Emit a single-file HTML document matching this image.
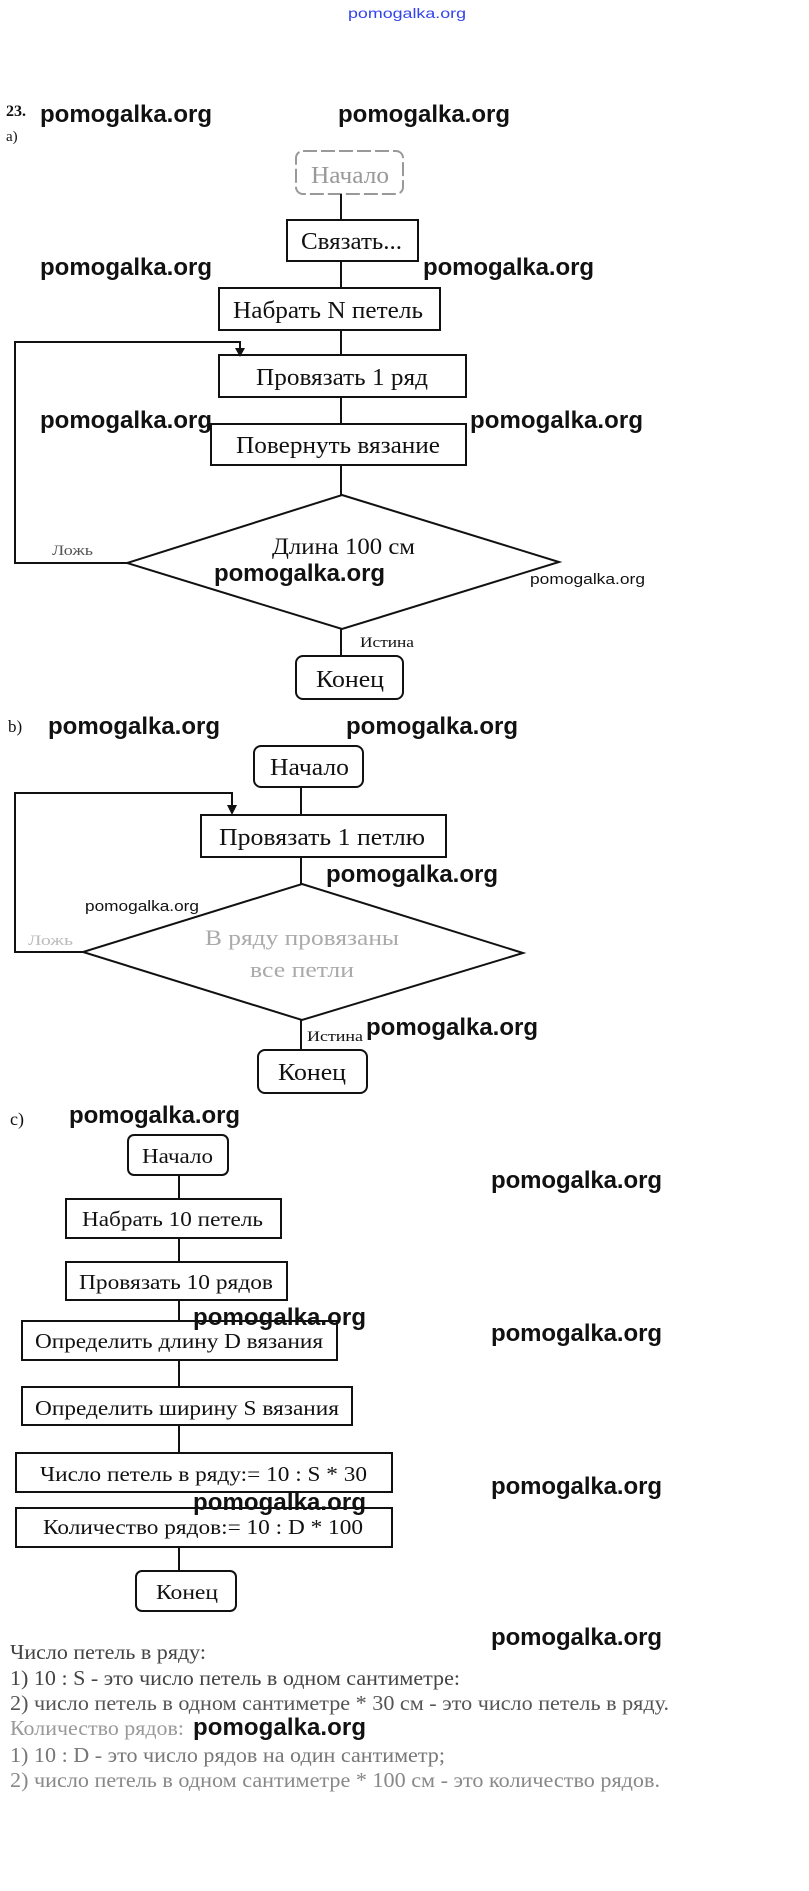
<!DOCTYPE html>
<html><head><meta charset="utf-8"><style>
html,body{margin:0;padding:0;background:#fff;}
svg{display:block;}
.s{font-family:"Liberation Serif","DejaVu Serif",serif;fill:#111;}
.w{font-family:"Liberation Sans","DejaVu Sans",sans-serif;font-weight:bold;fill:#111;}
</style></head><body>
<svg width="809" height="1891" viewBox="0 0 809 1891" xmlns="http://www.w3.org/2000/svg">
<g stroke="#111" stroke-width="2" fill="none">
<rect x="296" y="151" width="107" height="43" rx="7" stroke="#999" stroke-dasharray="14 4"/>
<line x1="341" y1="194" x2="341" y2="220"/>
<rect x="287" y="220" width="131" height="41"/>
<line x1="341" y1="261" x2="341" y2="288"/>
<rect x="219" y="288" width="221" height="42"/>
<line x1="341" y1="330" x2="341" y2="355"/>
<rect x="219" y="355" width="247" height="42"/>
<line x1="341" y1="397" x2="341" y2="424"/>
<rect x="211" y="424" width="255" height="41"/>
<line x1="341" y1="465" x2="341" y2="495"/>
<polygon points="342,495 559,562 342,629 127,563"/>
<polyline points="127,563 15,563 15,342 240,342 240,350"/>
<line x1="341" y1="629" x2="341" y2="656"/>
<rect x="296" y="656" width="107" height="43" rx="7"/>
<rect x="254" y="746" width="109" height="41" rx="7"/>
<line x1="301" y1="787" x2="301" y2="815"/>
<rect x="201" y="815" width="245" height="42"/>
<line x1="301" y1="857" x2="301" y2="884"/>
<polygon points="302,884 523,953 302,1020 83,952"/>
<polyline points="83,952 15,952 15,793 232,793 232,807"/>
<line x1="301" y1="1020" x2="301" y2="1050"/>
<rect x="258" y="1050" width="109" height="43" rx="7"/>
<rect x="128" y="1135" width="100" height="40" rx="6"/>
<line x1="179" y1="1175" x2="179" y2="1199"/>
<rect x="66" y="1199" width="215" height="39"/>
<line x1="179" y1="1238" x2="179" y2="1262"/>
<rect x="66" y="1262" width="221" height="38"/>
<line x1="179" y1="1300" x2="179" y2="1321"/>
<rect x="22" y="1321" width="315" height="39"/>
<line x1="179" y1="1360" x2="179" y2="1387"/>
<rect x="22" y="1387" width="330" height="38"/>
<line x1="179" y1="1425" x2="179" y2="1453"/>
<rect x="16" y="1453" width="376" height="39"/>
<rect x="16" y="1508" width="376" height="39"/>
<line x1="179" y1="1547" x2="179" y2="1571"/>
<rect x="136" y="1571" width="100" height="40" rx="6"/>
</g>
<polygon points="235,348 245,348 240,357" fill="#111"/>
<polygon points="227,805 237,805 232,815" fill="#111"/>

<text class="w" x="348" y="18" font-size="14" style="fill:#3344ee;font-weight:normal" textLength="118" lengthAdjust="spacingAndGlyphs">pomogalka.org</text>
<text class="s" x="6" y="116" font-size="16" font-weight="bold">23.</text>
<text class="s" x="6" y="141" font-size="15">а)</text>
<text class="s" x="8" y="732" font-size="17">b)</text>
<text class="s" x="10" y="1125" font-size="18">с)</text>

<g class="s">
<text x="311" y="183" font-size="24" style="fill:#999" textLength="78" lengthAdjust="spacingAndGlyphs">Начало</text>
<text x="301" y="249" font-size="24" textLength="101" lengthAdjust="spacingAndGlyphs">Связать...</text>
<text x="233" y="318" font-size="24" textLength="190" lengthAdjust="spacingAndGlyphs">Набрать N петель</text>
<text x="256" y="385" font-size="24" textLength="172" lengthAdjust="spacingAndGlyphs">Провязать 1 ряд</text>
<text x="236" y="453" font-size="24" textLength="204" lengthAdjust="spacingAndGlyphs">Повернуть вязание</text>
<text x="272" y="554" font-size="23" textLength="143" lengthAdjust="spacingAndGlyphs">Длина 100 см</text>
<text x="52" y="555" font-size="15" style="fill:#555" textLength="41" lengthAdjust="spacingAndGlyphs">Ложь</text>
<text x="360" y="647" font-size="15" textLength="54" lengthAdjust="spacingAndGlyphs">Истина</text>
<text x="316" y="687" font-size="24" textLength="68" lengthAdjust="spacingAndGlyphs">Конец</text>

<text x="270" y="775" font-size="24" textLength="79" lengthAdjust="spacingAndGlyphs">Начало</text>
<text x="219" y="845" font-size="24" textLength="206" lengthAdjust="spacingAndGlyphs">Провязать 1 петлю</text>
<text x="205" y="945" font-size="22" style="fill:#aaa" textLength="194" lengthAdjust="spacingAndGlyphs">В ряду провязаны</text>
<text x="250" y="977" font-size="22" style="fill:#aaa" textLength="104" lengthAdjust="spacingAndGlyphs">все петли</text>
<text x="28" y="945" font-size="15" style="fill:#bbb" textLength="45" lengthAdjust="spacingAndGlyphs">Ложь</text>
<text x="307" y="1041" font-size="15" textLength="56" lengthAdjust="spacingAndGlyphs">Истина</text>
<text x="278" y="1080" font-size="24" textLength="68" lengthAdjust="spacingAndGlyphs">Конец</text>

<text x="142" y="1163" font-size="21" textLength="71" lengthAdjust="spacingAndGlyphs">Начало</text>
<text x="82" y="1226" font-size="21" textLength="181" lengthAdjust="spacingAndGlyphs">Набрать 10 петель</text>
<text x="79" y="1289" font-size="21" textLength="194" lengthAdjust="spacingAndGlyphs">Провязать 10 рядов</text>
<text x="35" y="1348" font-size="21" textLength="288" lengthAdjust="spacingAndGlyphs">Определить длину D вязания</text>
<text x="35" y="1415" font-size="21" textLength="304" lengthAdjust="spacingAndGlyphs">Определить ширину S вязания</text>
<text x="40" y="1481" font-size="21" textLength="327" lengthAdjust="spacingAndGlyphs">Число петель в ряду:= 10 : S * 30</text>
<text x="43" y="1534" font-size="21" textLength="320" lengthAdjust="spacingAndGlyphs">Количество рядов:= 10 : D * 100</text>
<text x="156" y="1599" font-size="21" textLength="62" lengthAdjust="spacingAndGlyphs">Конец</text>

<text x="10" y="1659" font-size="21" style="fill:#444" textLength="196" lengthAdjust="spacingAndGlyphs">Число петель в ряду:</text>
<text x="10" y="1685" font-size="21" style="fill:#444" textLength="450" lengthAdjust="spacingAndGlyphs">1) 10 : S - это число петель в одном сантиметре:</text>
<text x="10" y="1710" font-size="21" style="fill:#555" textLength="659" lengthAdjust="spacingAndGlyphs">2) число петель в одном сантиметре * 30 см - это число петель в ряду.</text>
<text x="10" y="1735" font-size="21" style="fill:#999" textLength="174" lengthAdjust="spacingAndGlyphs">Количество рядов:</text>
<text x="10" y="1762" font-size="21" style="fill:#777" textLength="435" lengthAdjust="spacingAndGlyphs">1) 10 : D - это число рядов на один сантиметр;</text>
<text x="10" y="1787" font-size="21" style="fill:#888" textLength="650" lengthAdjust="spacingAndGlyphs">2) число петель в одном сантиметре * 100 см - это количество рядов.</text>
</g>

<g class="w" font-size="24">
<text x="40" y="122" textLength="172">pomogalka.org</text>
<text x="338" y="122" textLength="172">pomogalka.org</text>
<text x="40" y="275" textLength="172">pomogalka.org</text>
<text x="423" y="275" textLength="171">pomogalka.org</text>
<text x="40" y="428" textLength="172">pomogalka.org</text>
<text x="470" y="428" textLength="173">pomogalka.org</text>
<text x="214" y="581" textLength="171">pomogalka.org</text>
<text x="530" y="584" font-size="15" style="font-weight:normal" textLength="115" lengthAdjust="spacingAndGlyphs">pomogalka.org</text>
<text x="48" y="734" textLength="172">pomogalka.org</text>
<text x="346" y="734" textLength="172">pomogalka.org</text>
<text x="326" y="882" textLength="172">pomogalka.org</text>
<text x="85" y="911" font-size="15" style="font-weight:normal" textLength="114" lengthAdjust="spacingAndGlyphs">pomogalka.org</text>
<text x="366" y="1035" textLength="172">pomogalka.org</text>
<text x="69" y="1123" textLength="171">pomogalka.org</text>
<text x="491" y="1188" textLength="171">pomogalka.org</text>
<text x="193" y="1325" textLength="173">pomogalka.org</text>
<text x="491" y="1341" textLength="171">pomogalka.org</text>
<text x="491" y="1494" textLength="171">pomogalka.org</text>
<text x="193" y="1510" textLength="173">pomogalka.org</text>
<text x="491" y="1645" textLength="171">pomogalka.org</text>
<text x="193" y="1735" textLength="173">pomogalka.org</text>
</g>
</svg>
</body></html>
